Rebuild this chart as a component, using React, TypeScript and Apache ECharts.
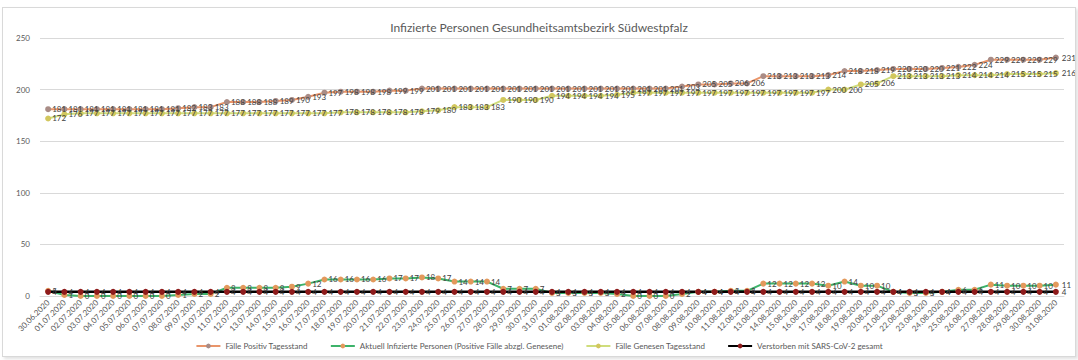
import React, { useEffect, useRef } from "react";
import * as echarts from "echarts";

const title = "Infizierte Personen Gesundheitsamtsbezirk Südwestpfalz";

const dates = [
  "30.06.2020", "01.07.2020", "02.07.2020", "03.07.2020", "04.07.2020", "05.07.2020", "06.07.2020",
  "07.07.2020", "08.07.2020", "09.07.2020", "10.07.2020", "11.07.2020", "12.07.2020", "13.07.2020",
  "14.07.2020", "15.07.2020", "16.07.2020", "17.07.2020", "18.07.2020", "19.07.2020", "20.07.2020",
  "21.07.2020", "22.07.2020", "23.07.2020", "24.07.2020", "25.07.2020", "26.07.2020", "27.07.2020",
  "28.07.2020", "29.07.2020", "30.07.2020", "31.07.2020", "01.08.2020", "02.08.2020", "03.08.2020",
  "04.08.2020", "05.08.2020", "06.08.2020", "07.08.2020", "08.08.2020", "09.08.2020", "10.08.2020",
  "11.08.2020", "12.08.2020", "13.08.2020", "14.08.2020", "15.08.2020", "16.08.2020", "17.08.2020",
  "18.08.2020", "19.08.2020", "20.08.2020", "21.08.2020", "22.08.2020", "23.08.2020", "24.08.2020",
  "25.08.2020", "26.08.2020", "27.08.2020", "28.08.2020", "29.08.2020", "30.08.2020", "31.08.2020",
];

const seriesNames = [
  "Fälle Positiv Tagesstand",
  "Aktuell Infizierte Personen (Positive Fälle abzgl. Genesene)",
  "Fälle Genesen Tagesstand",
  "Verstorben mit SARS-CoV-2 gesamt",
];

const positiv = [
  181, 181, 181, 181, 181, 181, 181, 181, 182, 183, 183, 188, 188, 188, 189, 190, 193, 197, 198, 198, 198,
  199, 199, 201, 201, 201, 201, 201, 201, 201, 201, 201, 201, 201, 201, 201, 201, 201, 201, 203, 205, 205,
  206, 206, 213, 213, 213, 213, 214, 218, 218, 219, 220, 220, 220, 221, 222, 224, 229, 229, 229, 229, 231,
];

const aktuell = [
  5, 1, 0, 0, 0, 0, 0, 0, 1, 2, 2, 8, 8, 8, 8, 9, 12, 16, 16, 16, 16,
  17, 17, 18, 17, 14, 14, 14, 7, 7, 7, 3, 3, 3, 3, 2, 0, 0, 0, 2, 4, 4,
  5, 5, 12, 12, 12, 12, 10, 14, 10, 10, 4, 3, 3, 4, 6, 6, 11, 10, 10, 10, 11,
];

const genesen = [
  172, 176, 177, 177, 177, 177, 177, 177, 177, 177, 177, 177, 177, 177, 177, 177, 177, 177, 178, 178, 178,
  178, 178, 179, 180, 183, 183, 183, 190, 190, 190, 194, 194, 194, 194, 195, 197, 197, 197, 197, 197, 197,
  197, 197, 197, 197, 197, 197, 200, 200, 205, 206, 213, 213, 213, 213, 214, 214, 214, 215, 215, 215, 216,
];

const verstorben = [
  4, 4, 4, 4, 4, 4, 4, 4, 4, 4, 4, 4, 4, 4, 4, 4, 4, 4, 4, 4, 4,
  4, 4, 4, 4, 4, 4, 4, 4, 4, 4, 4, 4, 4, 4, 4, 4, 4, 4, 4, 4, 4,
  4, 4, 4, 4, 4, 4, 4, 4, 4, 4, 4, 4, 4, 4, 4, 4, 4, 4, 4, 4, 4,
];

const yTicks = { min: 0, max: 250, interval: 50 };

const FONT = "Lato, 'Open Sans', sans-serif";

const styles = [
  { line: "#E9956A", marker: "#A98C86", width: 2 },
  { line: "#3DB36A", marker: "#E3995C", width: 2 },
  { line: "#CFDD7C", marker: "#D2C75E", width: 2 },
  { line: "#000000", marker: "#8E1B1B", width: 2.5 },
];

export default function App() {
  const ref = useRef<HTMLDivElement>(null);

  useEffect(() => {
    document.body.style.margin = "0";
    document.body.style.background = "#ffffff";
    if (!ref.current) return;
    const chart = echarts.init(ref.current, null, { renderer: "svg" });
    const all = [positiv, aktuell, genesen, verstorben];
    const series = all.map((vals, si) => ({
      name: seriesNames[si],
      type: "line",
      data: vals.map((v, i) =>
        i === vals.length - 1 ? { value: v, label: { distance: 3 } } : v
      ),
      symbol: "circle",
      symbolSize: 6,
      showAllSymbol: true,
      lineStyle: { color: styles[si].line, width: styles[si].width },
      itemStyle: { color: styles[si].marker, borderWidth: 0 },
      label: {
        show: true,
        position: "right",
        distance: 1,
        fontSize: 8,
        color: "#404040",
        fontFamily: FONT,
      },
      emphasis: { disabled: true },
    }));

    chart.setOption({
      animation: false,
      title: {
        text: title,
        left: "center",
        top: 8,
        textStyle: { fontSize: 12, fontWeight: "normal", color: "#595959", fontFamily: FONT },
      },
      grid: { left: 37, right: 11, top: 30, bottom: 60, containLabel: false },
      xAxis: {
        type: "category",
        data: dates,
        boundaryGap: true,
        axisLine: { lineStyle: { color: "#d9d9d9" } },
        axisTick: { show: false },
        axisLabel: {
          rotate: 45,
          interval: 0,
          fontSize: 8,
          color: "#595959",
          fontFamily: FONT,
          margin: 5,
        },
      },
      yAxis: {
        type: "value",
        min: yTicks.min,
        max: yTicks.max,
        interval: yTicks.interval,
        axisLine: { show: false },
        axisTick: { show: false },
        splitLine: { lineStyle: { color: "#d9d9d9" } },
        axisLabel: { fontSize: 8, color: "#595959", fontFamily: FONT, margin: 10 },
      },
      legend: {
        data: seriesNames,
        bottom: 1,
        left: "center",
        itemGap: 22,
        itemWidth: 24,
        itemHeight: 6,
        textStyle: { fontSize: 8, color: "#595959", fontFamily: FONT },
      },
      series,
    });
    return () => chart.dispose();
  }, []);

  return (
    <div style={{ width: 1078, height: 360, background: "#ffffff", position: "relative" }}>
      <div
        style={{
          position: "absolute",
          left: 2,
          top: 7,
          width: 1072,
          height: 348,
          border: "1px solid #d9d9d9",
          boxShadow: "2px 2px 3px rgba(0,0,0,0.12)",
          background: "#ffffff",
        }}
      >
        <div ref={ref} style={{ width: 1072, height: 348 }} />
      </div>
    </div>
  );
}
